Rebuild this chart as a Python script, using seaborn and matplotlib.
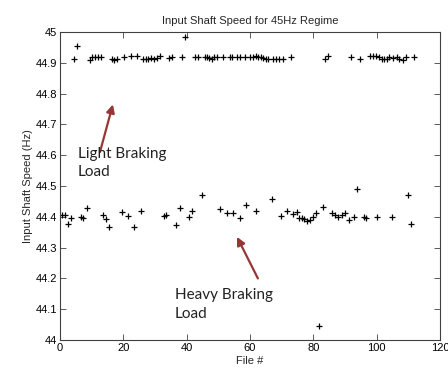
import numpy as np
import pandas as pd
import matplotlib
matplotlib.use("Agg")
import matplotlib.pyplot as plt
import seaborn as sns

# ---- data ----
light_file = [4.5, 5.5, 9.5, 10.2, 11.1, 11.9, 12.8, 16.3, 17.1, 17.9, 20.2, 22.4, 24.3,
              26.3, 27.1, 27.9, 28.7, 29.6, 30.5, 31.6, 34.5, 35.5, 38.6, 39.5, 42.6, 43.7,
              45.8, 46.4, 47.1, 47.9, 48.7, 49.6, 51.6, 53.7, 54.2, 55.8, 56.8, 58.4,
              60.0, 60.8, 61.9, 62.6, 63.4, 64.2, 65.1, 65.8, 67.4, 68.2, 69.3, 70.5,
              72.9, 83.7, 84.5, 91.9, 94.7, 97.9, 98.9, 99.8, 100.8, 101.6, 102.3,
              103.2, 104.0, 105.1, 106.3, 107.2, 108.2, 109.2, 111.9]
light_speed = [44.912, 44.955, 44.909, 44.918, 44.918, 44.918, 44.918, 44.912, 44.910, 44.912,
               44.920, 44.922, 44.922, 44.911, 44.912, 44.912, 44.916, 44.912, 44.916,
               44.921, 44.917, 44.918, 44.919, 44.983, 44.920, 44.920, 44.918, 44.918,
               44.916, 44.914, 44.918, 44.918, 44.918, 44.918, 44.918, 44.918, 44.918,
               44.918, 44.918, 44.918, 44.922, 44.920, 44.920, 44.916, 44.912, 44.912,
               44.912, 44.911, 44.912, 44.911, 44.919, 44.911, 44.921, 44.918, 44.911,
               44.922, 44.923, 44.921, 44.919, 44.912, 44.912, 44.914, 44.919, 44.916,
               44.919, 44.911, 44.910, 44.918, 44.918]

heavy_file = [0.6, 1.6, 2.4, 3.5, 6.5, 7.4, 8.5, 13.5, 14.4, 15.4, 19.6, 21.5, 23.5, 25.7,
              32.7, 33.5, 36.5, 37.8, 40.7, 41.6, 44.7, 50.6, 52.6, 54.5, 56.8, 58.7,
              62.0, 66.8, 69.9, 71.8, 73.7, 74.7, 75.6, 76.3, 77.0, 78.0, 78.9, 80.0,
              80.8, 81.9, 83.0, 86.0, 86.8, 87.9, 89.0, 90.0, 91.2, 93.0, 93.9, 96.1,
              96.8, 100.0, 104.9, 109.9, 111.0]
heavy_speed = [44.406, 44.407, 44.378, 44.397, 44.398, 44.395, 44.428, 44.407, 44.394,
               44.366, 44.417, 44.403, 44.366, 44.419, 44.402, 44.406, 44.373, 44.428,
               44.400, 44.419, 44.471, 44.425, 44.412, 44.412, 44.397, 44.439, 44.419,
               44.458, 44.404, 44.419, 44.409, 44.416, 44.397, 44.395, 44.394, 44.385,
               44.391, 44.400, 44.414, 44.045, 44.433, 44.414, 44.406, 44.399, 44.406,
               44.412, 44.391, 44.398, 44.489, 44.400, 44.397, 44.400, 44.400, 44.471,
               44.378]

x_ticks = [0, 20, 40, 60, 80, 100, 120]
y_ticks = [44.0, 44.1, 44.2, 44.3, 44.4, 44.5, 44.6, 44.7, 44.8, 44.9, 45.0]
y_tick_labels = ["44", "44.1", "44.2", "44.3", "44.4", "44.5", "44.6", "44.7", "44.8", "44.9", "45"]

title = "Input Shaft Speed for 45Hz Regime"
xlabel = "File #"
ylabel = "Input Shaft Speed (Hz)"

df = pd.DataFrame({
    "file": light_file + heavy_file,
    "speed": light_speed + heavy_speed,
})

sns.set_theme(style="white")
plt.rcParams["font.family"] = ["Liberation Sans", "DejaVu Sans"]

fig = plt.figure(figsize=(4.48, 3.68), dpi=100)
ax = fig.add_axes([0.134, 0.076, 0.848, 0.837])

sns.scatterplot(data=df, x="file", y="speed", marker="+", color="black",
                s=18, linewidth=0.9, ax=ax, legend=False)

ax.set_xlim(0, 120)
ax.set_ylim(44, 45)
ax.set_xticks(x_ticks)
ax.set_xticklabels([str(t) for t in x_ticks])
ax.set_yticks(y_ticks)
ax.set_yticklabels(y_tick_labels)
ax.tick_params(direction="in", length=4, width=0.6, colors="#404040",
               labelcolor="black", labelsize=8, top=True, right=True,
               bottom=True, left=True, pad=2)
for s in ax.spines.values():
    s.set_color("#404040")
    s.set_linewidth(0.8)

ax.set_title(title, fontsize=8, pad=6)
ax.set_xlabel(xlabel, fontsize=8, labelpad=2)
ax.set_ylabel(ylabel, fontsize=8, labelpad=2)

arrow_color = "#953735"
ax.annotate("", xy=(16.7, 44.765), xytext=(12.6, 44.61),
            arrowprops=dict(arrowstyle="-|>", color=arrow_color, lw=1.6,
                            mutation_scale=12, shrinkA=0, shrinkB=0))
ax.text(5.7, 44.575, "Light Braking\nLoad", fontsize=11, family=["Lato", "DejaVu Sans"],
        color="#222222", va="center", ha="left", linespacing=1.4)

ax.annotate("", xy=(55.9, 44.335), xytext=(62.5, 44.2),
            arrowprops=dict(arrowstyle="-|>", color=arrow_color, lw=1.6,
                            mutation_scale=12, shrinkA=0, shrinkB=0))
ax.text(36.3, 44.115, "Heavy Braking\nLoad", fontsize=11, family=["Lato", "DejaVu Sans"],
        color="#222222", va="center", ha="left", linespacing=1.4)

fig.savefig("out.png", dpi=100)
